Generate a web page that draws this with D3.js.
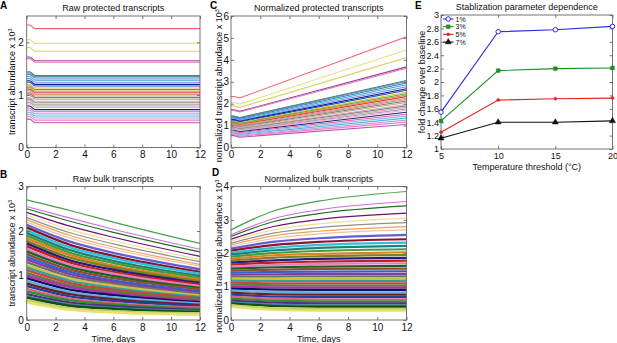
<!DOCTYPE html>
<html><head><meta charset="utf-8">
<script src="https://cdn.jsdelivr.net/npm/d3@7"></script>
<style>body{margin:0;background:#fff}svg{display:block;font-family:"Liberation Sans",Arial,Helvetica,sans-serif}</style>
</head><body><svg id="c" width="617" height="343"></svg>
<script>
// ---------- data ----------
const timeTicks = [0, 2, 4, 6, 8, 10, 12];

// Panel A: raw protected transcripts (x10^3); flat, drop between 0.2 and 0.6 days, then plateau
const aTimes = [0, 0.2, 0.6, 12];
const aStart = [2.33,2.05,1.90,1.72,1.69,1.44,1.42,1.39,1.35,1.31,1.27,1.24,1.20,1.17,1.14,1.11,1.08,1.05,1.02,0.99,0.95,0.92,0.89,0.86,0.83,0.79,0.75,0.71,0.67,0.63,0.59,0.54];
const aPlateau = [2.26,1.98,1.83,1.65,1.62,1.37,1.35,1.32,1.28,1.24,1.20,1.17,1.13,1.10,1.07,1.04,1.01,0.98,0.95,0.92,0.88,0.85,0.82,0.79,0.76,0.72,0.68,0.64,0.60,0.56,0.52,0.47];
// Panel C: normalized protected transcripts, value at day 12
const cEnd = [5.05,4.45,4.10,3.68,3.62,3.06,3.01,2.94,2.86,2.77,2.68,2.61,2.52,2.45,2.39,2.32,2.25,2.19,2.12,2.05,1.96,1.90,1.83,1.76,1.70,1.61,1.52,1.43,1.34,1.25,1.16,1.05];
const acColors = ["#f06070","#e6e27a","#e0d070","#9a40b0","#e878a8","#607878","#4a9a9a","#3a7ad0","#40a8d8","#7090e0","#101890","#2050c0","#e0c030","#50a850","#e89040","#d84040","#e09080","#a0a0a0","#a07050","#b0a8a0","#e0a0b8","#8a8a8a","#c8b8a0","#b090d0","#f0b0d0","#202070","#e060a0","#90b8e8","#50b8e0","#c0a0e0","#f080c0","#c050c0"];

// Panels B and D: values at days 0, 3, 6, 12
const bdTimes = [0, 3, 6, 12];
const bLines = [
 [2.70,2.46,2.20,1.72],[2.55,2.29,2.04,1.59],[2.50,2.22,1.97,1.53],[2.42,2.11,1.86,1.43],
 [2.36,2.03,1.78,1.36],[2.30,1.96,1.71,1.31],[2.25,1.90,1.64,1.25],[2.20,1.84,1.59,1.21],
 [2.14,1.76,1.51,1.14],[2.08,1.69,1.44,1.08],[2.02,1.63,1.39,1.04],[1.96,1.57,1.33,0.99],
 [1.90,1.51,1.28,0.95],[1.84,1.46,1.22,0.91],[1.78,1.40,1.18,0.87],[1.72,1.34,1.13,0.83],
 [1.66,1.29,1.08,0.80],[1.60,1.24,1.04,0.76],[1.54,1.19,0.99,0.72],[1.48,1.13,0.94,0.69],
 [1.42,1.08,0.89,0.65],[1.36,1.03,0.85,0.62],[1.30,0.98,0.81,0.59],[1.24,0.93,0.77,0.55],
 [1.18,0.88,0.72,0.52],[1.12,0.83,0.68,0.49],[1.06,0.78,0.64,0.46],[1.00,0.74,0.60,0.43],
 [0.94,0.68,0.56,0.40],[0.88,0.63,0.51,0.37],[0.82,0.58,0.47,0.34],[0.76,0.53,0.43,0.31],
 [0.70,0.48,0.38,0.28],[0.64,0.44,0.35,0.25],[0.58,0.39,0.31,0.22],[0.53,0.35,0.27,0.20],
 [0.50,0.32,0.25,0.18],[0.45,0.26,0.20,0.15],[0.40,0.23,0.17,0.12]
];
const dLines = [
 [2.70,3.28,3.56,3.85],[2.55,3.05,3.30,3.55],[2.50,2.96,3.19,3.42],[2.42,2.81,3.01,3.20],
 [2.36,2.71,2.88,3.05],[2.30,2.61,2.77,2.92],[2.25,2.53,2.66,2.80],[2.20,2.45,2.58,2.70],
 [2.14,2.35,2.45,2.55],[2.08,2.25,2.34,2.42],[2.02,2.17,2.25,2.32],[1.96,2.09,2.16,2.22],
 [1.90,2.01,2.07,2.12],[1.84,1.94,1.98,2.03],[1.78,1.87,1.91,1.95],[1.72,1.79,1.83,1.86],
 [1.66,1.72,1.75,1.78],[1.60,1.65,1.68,1.70],[1.54,1.58,1.60,1.62],[1.48,1.51,1.53,1.54],
 [1.42,1.44,1.45,1.46],[1.36,1.37,1.38,1.38],[1.30,1.30,1.31,1.31],[1.24,1.24,1.24,1.24],
 [1.18,1.17,1.17,1.17],[1.12,1.10,1.10,1.10],[1.06,1.04,1.03,1.03],[1.00,0.98,0.97,0.97],
 [0.94,0.91,0.90,0.90],[0.88,0.84,0.83,0.83],[0.82,0.77,0.76,0.76],[0.76,0.70,0.69,0.69],
 [0.70,0.64,0.62,0.62],[0.64,0.58,0.56,0.56],[0.58,0.52,0.50,0.50],[0.53,0.46,0.44,0.44],
 [0.50,0.42,0.40,0.40],[0.45,0.35,0.33,0.33],[0.40,0.30,0.28,0.28]
];
const bdColors = ["#4aa04a","#d070e0","#207020","#701070","#f0e090","#909090","#f0a060","#f0c0a0","#6060d0","#901030","#30c0d0","#208080","#40a040","#e08020","#808020","#202080","#c02020","#e080c0","#206020","#8a5030","#3060d0","#8040a0","#707070","#d0c040","#30a0a0","#d04040","#608030","#b030b0","#101060","#60b0e0","#702020","#2040a0","#e06080","#309030","#503080","#5080a0","#105010","#c0d060","#e8e070"];

// Panel E
const eTemps = [5, 10, 15, 20];
const eNames = ["1%", "3%", "5%", "7%"];
const e1 = [1.55, 2.75, 2.78, 2.83];
const e3 = [1.42, 2.17, 2.20, 2.21];
const e5 = [1.25, 1.73, 1.75, 1.76];
const e7 = [1.16, 1.40, 1.40, 1.42];
const eTicksY = [1,1.2,1.4,1.6,1.8,2,2.2,2.4,2.6,2.8,3];

// ---------- drawing ----------
const svg = d3.select("#c");
let clipId = 0;

function panel(o) {
  const g = svg.append("g");
  const x = d3.scaleLinear().domain(o.xd).range([o.x0, o.x1]);
  const y = d3.scaleLinear().domain(o.yd).range([o.y1, o.y0]);
  const id = "clip" + (clipId++);
  g.append("clipPath").attr("id", id).append("rect")
    .attr("x", o.x0).attr("y", o.y0).attr("width", o.x1 - o.x0).attr("height", o.y1 - o.y0);
  const plot = g.append("g").attr("clip-path", `url(#${id})`);
  const tf = o.tf || (d => d3.format("~g")(d));
  const ax = g.append("g").attr("transform", `translate(0,${o.y1})`)
    .call(d3.axisBottom(x).tickValues(o.xt).tickSize(-3).tickPadding(3.5).tickFormat(tf));
  const axT = g.append("g").attr("transform", `translate(0,${o.y0})`)
    .call(d3.axisTop(x).tickValues(o.xt).tickSize(-3).tickFormat(""));
  const ay = g.append("g").attr("transform", `translate(${o.x0},0)`)
    .call(d3.axisLeft(y).tickValues(o.yt).tickSize(-3).tickPadding(o.yp || 3).tickFormat(o.ytf || tf));
  const ayR = g.append("g").attr("transform", `translate(${o.x1},0)`)
    .call(d3.axisRight(y).tickValues(o.yt).tickSize(-3).tickFormat(""));
  [ax, axT, ay, ayR].forEach(a => {
    a.select(".domain").remove();
    a.selectAll(".tick line").attr("stroke", "#555").attr("stroke-width", 0.8);
    a.selectAll(".tick text").attr("font-size", o.fs || 10).attr("fill", "#111")
      .attr("font-family", '"Liberation Sans",Arial,sans-serif');
  });
  g.append("rect").attr("x", o.x0).attr("y", o.y0).attr("width", o.x1 - o.x0).attr("height", o.y1 - o.y0)
    .attr("fill", "none").attr("stroke", "#666").attr("stroke-width", 0.9);
  g.append("text").attr("x", (o.x0 + o.x1) / 2).attr("y", o.y0 - 5).attr("text-anchor", "middle")
    .attr("font-size", 9).attr("fill", "#111").text(o.title);
  g.append("text").attr("x", o.lx).attr("y", o.ly).attr("font-size", 10).attr("font-weight", "bold")
    .attr("fill", "#000").text(o.letter);
  if (o.xlabel) g.append("text").attr("x", (o.x0 + o.x1) / 2).attr("y", o.xly).attr("text-anchor", "middle")
    .attr("font-size", 9).attr("fill", "#111").text(o.xlabel);
  if (o.ylabel) {
    const t = g.append("text").attr("transform", `translate(${o.ylx},${(o.y0 + o.y1) / 2 + (o.yloff || 0)}) rotate(-90)`)
      .attr("text-anchor", "middle").attr("font-size", 9).attr("fill", "#111");
    t.append("tspan").text(o.ylabel);
    if (o.sup) t.append("tspan").attr("dy", "-0.45em").attr("font-size", 5.5).text(o.sup);
  }
  return {g, plot, x, y};
}

// A
const pA = panel({x0: 26.7, x1: 200, y0: 16, y1: 147.5, xd: [0, 12], yd: [0, 2.5], xt: timeTicks, yt: [0, 1, 2],
  title: "Raw protected transcripts", letter: "A", lx: 0, ly: 9, ylabel: "transcript abundance x 10", sup: "3", ylx: 14.5});
{
  const line = d3.line().x(d => pA.x(d[0])).y(d => pA.y(d[1])).curve(d3.curveMonotoneX);
  pA.plot.selectAll("path.l").data(aStart.map((s, i) => [[aTimes[0], s], [aTimes[1], s], [aTimes[2], aPlateau[i]], [aTimes[3], aPlateau[i]]]))
    .join("path").attr("d", line).attr("fill", "none").attr("stroke", (d, i) => acColors[i]).attr("stroke-width", 1.1);
}

// C
const pC = panel({x0: 231, x1: 406.5, y0: 16, y1: 147.5, xd: [0, 12], yd: [0, 6], xt: timeTicks, yt: [0,1,2,3,4,5,6],
  title: "Normalized protected transcripts", letter: "C", lx: 210, ly: 9, ylabel: "normalized transcript abundance x 10", sup: "3", ylx: 221.5, yp: 2, yloff: 4});
{
  const line = d3.line().x(d => pC.x(d[0])).y(d => pC.y(d[1]));
  pC.plot.selectAll("path.l").data(aStart.map((s, i) => [[aTimes[0], s], [aTimes[1], s], [aTimes[2], aPlateau[i]], [aTimes[3], cEnd[i]]]))
    .join("path").attr("d", line).attr("fill", "none").attr("stroke", (d, i) => acColors[i]).attr("stroke-width", 1.1);
}

// B
const pB = panel({x0: 26.7, x1: 200, y0: 186.5, y1: 320, xd: [0, 12], yd: [0, 3], xt: timeTicks, yt: [0, 1, 2, 3],
  title: "Raw bulk transcripts", letter: "B", lx: 0, ly: 178, xlabel: "Time, days", xly: 341.5,
  ylabel: "transcript abundance x 10", sup: "3", ylx: 14.5});
{
  const line = d3.line().x((d, j) => pB.x(bdTimes[j])).y(d => pB.y(d)).curve(d3.curveMonotoneX);
  pB.plot.selectAll("path.l").data(bLines).join("path").attr("d", line).attr("fill", "none")
    .attr("stroke", (d, i) => bdColors[i]).attr("stroke-width", (d, i) => i < 8 ? 1.2 : 2.4);
}

// D
const pD = panel({x0: 231, x1: 406.5, y0: 186.5, y1: 320, xd: [0, 12], yd: [0, 4], xt: timeTicks, yt: [0, 1, 2, 3, 4],
  title: "Normalized bulk transcripts", letter: "D", lx: 212, ly: 176, xlabel: "Time, days", xly: 341.5,
  ylabel: "normalized transcript abundance x 10", sup: "3", ylx: 221.5, yp: 2, yloff: 3});
{
  const line = d3.line().x((d, j) => pD.x(bdTimes[j])).y(d => pD.y(d)).curve(d3.curveMonotoneX);
  pD.plot.selectAll("path.l").data(dLines).join("path").attr("d", line).attr("fill", "none")
    .attr("stroke", (d, i) => bdColors[i]).attr("stroke-width", (d, i) => i < 8 ? 1.2 : 2.2);
}

// E
const pE = panel({x0: 441, x1: 612.5, y0: 15, y1: 149, xd: [5, 20], yd: [1, 3], xt: eTemps, yt: eTicksY, fs: 9,
  yp: 2, ytf: d3.format("~g"), title: "Stablization parameter dependence", letter: "E", lx: 415, ly: 9,
  xlabel: "Temperature threshold (\u00B0C)", xly: 169.5, ylabel: "fold change over baseline", ylx: 424.5});
{
  const series = [e1, e3, e5, e7];
  const colors = ["#2a2ae0", "#1f8f2a", "#e82222", "#111111"];
  const symbols = [d3.symbolCircle, d3.symbolSquare, d3.symbolCircle, d3.symbolTriangle];
  const sizes = [16, 14, 7, 16];
  const line = d3.line().x((d, j) => pE.x(eTemps[j])).y(d => pE.y(d));
  series.forEach((s, k) => {
    pE.g.append("path").attr("d", line(s)).attr("fill", "none").attr("stroke", colors[k]).attr("stroke-width", 1.1);
    pE.g.selectAll(null).data(s).join("path")
      .attr("transform", (d, j) => `translate(${pE.x(eTemps[j])},${pE.y(d)})`)
      .attr("d", d3.symbol().type(symbols[k]).size(sizes[k]))
      .attr("fill", k === 0 ? "#fff" : colors[k]).attr("stroke", colors[k]).attr("stroke-width", k === 0 ? 1 : 0.5);
  });
  const lg = pE.g.append("g");
  const ly0 = 19, dy = 7.7;
  eNames.forEach((n, k) => {
    const yy = ly0 + k * dy;
    lg.append("line").attr("x1", 443).attr("x2", 453.5).attr("y1", yy).attr("y2", yy).attr("stroke", colors[k]).attr("stroke-width", 1.1);
    lg.append("path").attr("transform", `translate(448.2,${yy})`).attr("d", d3.symbol().type(symbols[k]).size(sizes[k])())
      .attr("fill", k === 0 ? "#fff" : colors[k]).attr("stroke", colors[k]).attr("stroke-width", k === 0 ? 1 : 0.5);
    lg.append("text").attr("x", 455.5).attr("y", yy + 2.5).attr("font-size", 7).attr("fill", "#111").text(n);
  });
}
</script>
</body></html>
